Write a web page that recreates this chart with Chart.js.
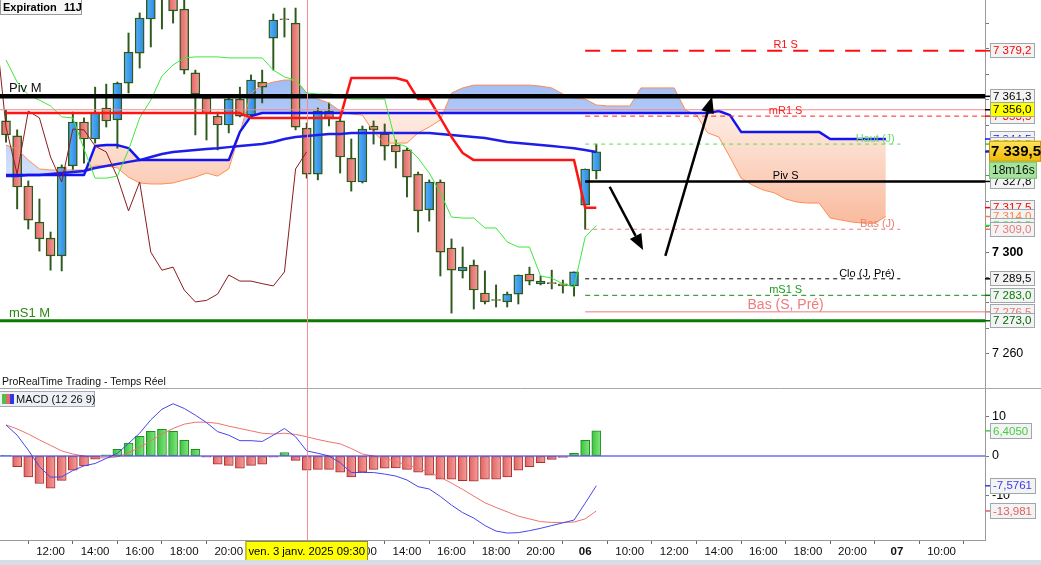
<!DOCTYPE html>
<html>
<head>
<meta charset="utf-8">
<title>CAC 40 30 min - Ichimoku / MACD</title>
<script src="https://cdn.jsdelivr.net/npm/chart.js@4.4.1/dist/chart.umd.min.js"></script>
<style>
  html, body { margin: 0; padding: 0; background: #fff; }
  body { width: 1041px; height: 565px; overflow: hidden; position: relative; }
  canvas { position: absolute; left: 0; }
  #priceChart { top: 0; }
  #macdChart { top: 389px; }
</style>
</head>
<body>
<canvas id="priceChart" width="1041" height="389"></canvas>
<canvas id="macdChart" width="1041" height="176"></canvas>
<script>
// 30 min bars, 2 janv. 10:00 -> 6 janv. 08:30 (bar index 0..53)
const opens = [7351.6, 7345.7, 7326.0, 7311.8, 7305.5, 7298.5, 7333.9, 7351.2, 7344.5, 7356.7,
	7352.0, 7366.5, 7378.3, 7391.7, 7401.5, 7404.7, 7395.6, 7370.5, 7360.6, 7353.5,
	7350.0, 7360.2, 7353.9, 7366.9, 7384.2, 7391.8, 7390.1, 7348.8, 7330.7, 7355.5,
	7351.6, 7337.0, 7327.6, 7349.6, 7346.5, 7342.1, 7340.2, 7330.7, 7316.6, 7327.6,
	7301.6, 7292.6, 7294.9, 7283.9, 7281.3, 7280.4, 7283.5, 7291.4, 7287.5, 7288.0,
	7287.5, 7286.7, 7318.5, 7331.9];
const highs = [7355.9, 7348.1, 7328.0, 7320.9, 7307.9, 7334.3, 7355.1, 7352.8, 7364.9, 7366.1,
	7366.9, 7386.2, 7394.1, 7405.1, 7410.2, 7407.8, 7401.1, 7371.6, 7361.8, 7355.1,
	7361.0, 7364.9, 7369.7, 7371.6, 7393.7, 7396.0, 7396.0, 7350.8, 7356.7, 7358.7,
	7352.8, 7344.5, 7349.6, 7351.6, 7350.4, 7344.1, 7340.9, 7331.5, 7328.4, 7328.4,
	7305.2, 7302.0, 7296.9, 7292.6, 7287.1, 7284.3, 7291.0, 7294.1, 7290.6, 7292.9,
	7289.0, 7292.2, 7332.7, 7342.5];
const lows = [7343.3, 7317.0, 7309.1, 7300.4, 7292.9, 7292.6, 7332.3, 7335.0, 7342.9, 7349.2,
	7340.9, 7362.6, 7372.4, 7380.7, 7387.8, 7390.1, 7370.1, 7346.1, 7344.1, 7340.2,
	7346.9, 7353.2, 7353.5, 7358.7, 7371.6, 7384.6, 7348.1, 7329.1, 7328.4, 7349.6,
	7331.1, 7324.0, 7327.2, 7342.5, 7336.2, 7333.1, 7321.7, 7307.9, 7312.2, 7290.6,
	7276.0, 7289.8, 7277.6, 7279.6, 7278.4, 7278.4, 7279.6, 7287.1, 7287.1, 7285.5,
	7283.9, 7282.7, 7309.0, 7328.8];
const closes = [7346.1, 7325.6, 7312.6, 7305.2, 7298.5, 7333.5, 7351.2, 7344.5, 7355.1, 7351.6,
	7366.5, 7378.7, 7392.1, 7401.5, 7406.3, 7394.9, 7371.6, 7362.2, 7354.7, 7350.0,
	7360.2, 7353.5, 7367.7, 7364.9, 7391.3, 7391.4, 7349.2, 7330.7, 7355.5, 7352.8,
	7337.4, 7327.6, 7348.4, 7348.1, 7341.7, 7339.4, 7329.5, 7316.2, 7327.6, 7300.0,
	7292.9, 7294.1, 7285.1, 7280.4, 7281.0, 7283.5, 7291.0, 7288.6, 7288.6, 7287.6,
	7286.7, 7292.2, 7332.7, 7339.5];

// Ichimoku
const tenkan = [7375.6, 7366.9, 7361.8, 7359.8, 7357.5, 7353.2, 7352.8, 7340.6, 7329.1, 7329.1,
	7329.9, 7340.2, 7352.8, 7359.8, 7369.3, 7373.6, 7376.4, 7376.8, 7376.8, 7376.8,
	7376.4, 7376.4, 7376.4, 7376.4, 7371.6, 7368.9, 7367.7, 7362.6, 7362.2, 7362.2,
	7361.8, 7360.2, 7360.2, 7360.2, 7360.2, 7342.9, 7341.4, 7337.0, 7331.1, 7323.3,
	7313.8, 7313.4, 7313.4, 7309.5, 7309.5, 7304.0, 7302.0, 7302.0, 7290.6, 7289.8,
	7287.5, 7286.3, 7305.9, 7310.5];
const kijun = [7354.7, 7354.7, 7354.7, 7354.7, 7354.7, 7354.7, 7354.7, 7354.7, 7354.7, 7354.7,
	7354.7, 7354.7, 7354.7, 7354.7, 7354.7, 7354.7, 7354.7, 7354.7, 7354.7, 7354.7,
	7354.7, 7354.7, 7352.8, 7352.8, 7352.8, 7352.8, 7352.8, 7352.8, 7352.8, 7352.8,
	7352.8, 7368.5, 7368.5, 7368.5, 7368.5, 7368.5, 7367.3, 7360.2, 7360.2, 7352.8,
	7345.3, 7339.0, 7336.2, 7336.2, 7336.2, 7336.2, 7336.2, 7336.2, 7336.2, 7336.2,
	7336.2, 7336.2, 7317.5, 7317.5];
// senkou spans run 26 bars past the last candle (index 0..79)
const spanA = [7342.1, 7340.6, 7336.2, 7332.7, 7332.3, 7332.3, 7332.3, 7332.3, 7333.9, 7333.9,
	7333.1, 7329.5, 7327.2, 7326.8, 7326.8, 7327.2, 7328.4, 7329.5, 7331.1, 7329.9,
	7332.7, 7346.9, 7362.6, 7365.7, 7366.9, 7367.7, 7367.7, 7362.6, 7360.2, 7358.7,
	7355.5, 7354.3, 7353.9, 7347.3, 7342.9, 7342.9, 7342.9, 7346.9, 7349.2, 7352.0,
	7362.6, 7364.6, 7365.7, 7365.7, 7365.7, 7365.7, 7365.7, 7365.7, 7365.3, 7364.6,
	7362.2, 7360.6, 7360.2, 7357.9, 7357.5, 7357.5, 7357.5, 7364.6, 7364.6, 7364.6,
	7364.6, 7355.9, 7353.9, 7346.9, 7345.3, 7337.4, 7329.1, 7326.4, 7324.4, 7323.3,
	7320.9, 7319.7, 7319.3, 7319.3, 7313.4, 7312.6, 7311.8, 7311.4, 7311.4, 7314.0];
const spanB = [7330.3, 7330.3, 7330.3, 7330.3, 7330.3, 7330.3, 7330.3, 7330.3, 7341.7, 7342.1,
	7342.1, 7340.9, 7336.2, 7336.2, 7336.2, 7336.2, 7336.2, 7336.2, 7336.2, 7336.2,
	7336.2, 7347.3, 7353.5, 7354.7, 7354.7, 7354.7, 7354.7, 7354.7, 7354.7, 7354.7,
	7354.7, 7354.7, 7354.7, 7354.7, 7354.7, 7354.7, 7354.7, 7354.7, 7354.7, 7354.7,
	7354.7, 7354.7, 7354.7, 7354.7, 7354.7, 7354.7, 7354.7, 7354.7, 7354.7, 7354.7,
	7354.7, 7354.7, 7354.7, 7354.7, 7354.7, 7354.7, 7354.7, 7354.7, 7354.7, 7354.7,
	7354.7, 7354.7, 7354.7, 7354.7, 7355.5, 7353.9, 7347.3, 7347.3, 7347.3, 7347.3,
	7347.3, 7347.3, 7347.3, 7347.3, 7344.5, 7344.5, 7344.5, 7344.5, 7344.5, 7344.5];
const movingAvg = [7329.9, 7329.9, 7330.3, 7330.3, 7330.7, 7331.1, 7331.5, 7331.9, 7333.1, 7333.9,
	7334.7, 7335.5, 7336.2, 7337.4, 7338.6, 7339.4, 7339.8, 7340.2, 7340.6, 7340.9,
	7341.3, 7341.7, 7342.1, 7342.5, 7343.3, 7344.5, 7345.3, 7345.7, 7346.1, 7346.5,
	7346.5, 7346.9, 7346.9, 7346.9, 7346.9, 7346.9, 7346.9, 7346.9, 7346.9, 7346.5,
	7346.1, 7345.7, 7345.3, 7344.9, 7344.1, 7343.3, 7342.9, 7342.5, 7342.1, 7341.7,
	7341.3, 7340.9, 7340.2, 7339.4];
const CHIKOU_SHIFT = 26;

// MACD (12 26 9)
const macdLine = [7.9, 5.3, 1.5, -2.7, -5.4, -5.3, -3.7, -2.5, -1.9, -0.6,
	0.7, 3.2, 5.8, 9.2, 11.9, 13.3, 12.1, 10.4, 8.5, 6.2,
	5.3, 3.9, 3.9, 3.7, 5.3, 7.0, 4.9, 1.3, 0.7, 0.0,
	-1.7, -4.2, -4.2, -4.2, -4.6, -5.1, -6.1, -7.8, -8.4, -10.3,
	-12.5, -14.4, -15.8, -17.7, -19.1, -19.6, -19.5, -19.0, -18.4, -17.7,
	-17.0, -16.3, -12.0, -7.5761];
const signalLine = [7.9, 6.9, 5.6, 4.1, 2.7, 1.3, 0.5, 0.0, -0.4, -0.5,
	-0.2, 0.8, 2.2, 3.9, 5.6, 7.0, 8.1, 8.6, 8.6, 8.3,
	7.6, 7.0, 6.4, 5.8, 5.6, 5.8, 5.5, 4.9, 4.2, 3.6,
	3.1, 1.9, 0.5, 0.0, -0.6, -1.4, -2.3, -3.1, -4.2, -5.4,
	-6.9, -8.5, -10.2, -11.9, -13.1, -14.2, -15.3, -16.0, -16.7, -16.9,
	-16.9, -16.8, -16.0, -13.981];
const histogram = [0.2, -2.7, -5.3, -7.0, -8.2, -6.2, -3.6, -2.5, -0.8, 0.3,
	1.7, 3.3, 5.0, 6.3, 6.8, 6.3, 4.0, 1.7, -0.3, -2.1,
	-2.4, -3.1, -2.4, -2.1, -0.3, 0.9, -1.1, -3.6, -3.4, -3.4,
	-4.1, -5.3, -4.1, -3.4, -3.1, -3.0, -3.4, -4.1, -4.9, -5.9,
	-5.9, -6.3, -6.4, -5.9, -5.9, -5.3, -3.6, -2.7, -1.7, -0.85,
	-0.35, 0.7, 4.0, 6.405];

// pivots and reference levels
const levelNames = ['R1 S', 'Piv M', '', 'mR1 S', 'Haut (J)', 'Piv S', 'Bas (J)', 'Clo (J, Pré)', 'mS1 S', 'Bas (S, Pré)', 'mS1 M'];
const levelValues = [7379.2, 7361.3, 7356.0, 7353.5, 7342.5, 7327.8, 7309.0, 7289.5, 7283.0, 7276.5, 7273.0];

// axis labels
const xTickIdx = [0, 4, 8, 12, 16, 20, 24, 28, 32, 36, 40, 44, 48, 52, 56, 60, 64, 68, 72, 76, 80, 84];
const xTickLabels = ['', '12:00', '14:00', '16:00', '18:00', '20:00', '03', '10:00', '12:00', '14:00', '16:00', '18:00', '20:00',
	'06', '10:00', '12:00', '14:00', '16:00', '18:00', '20:00', '07', '10:00'];
const yTickLabels = [7300, 7260];
const crossIdx = 27;
const crossLabel = 'ven. 3 janv. 2025 09:30';
const countdown = '18m16s';

// ---- look ----
const FONT = '"Liberation Sans", Arial, sans-serif';
const X_MIN = -0.54, X_MAX = 87.9;
const WEEK_FROM = 52, DAY_TO = 80.3, LABEL_MID = 70, LABEL_RIGHT = 79.8;
const EDGE = '#2d5a1b';
const BULL_SHADE = ['#55b2fb', '#2d88dc'];
const BEAR_SHADE = ['#df6563', '#f49e9a'];

const levelStyle = {
	'R1 S': { color: '#ff1010', width: 2, dash: [15, 11], from: WEEK_FROM, to: X_MAX, text: '#ff1010', size: 11, at: 'mid' },
	'Piv M': { color: '#000000', width: 4.5, dash: [], from: X_MIN, to: X_MAX, text: '#111111', size: 13, at: 'left' },
	'': { color: '#f08a8a', width: 1, dash: [], from: X_MIN, to: X_MAX },
	'mR1 S': { color: '#ff2020', width: 1, dash: [5, 4], from: WEEK_FROM, to: X_MAX, text: '#ff2020', size: 11, at: 'mid' },
	'Haut (J)': { color: '#55dd55', width: 1, dash: [4, 4], from: WEEK_FROM, to: DAY_TO, text: '#66dd66', size: 11, at: 'right' },
	'Piv S': { color: '#000000', width: 2.5, dash: [], from: WEEK_FROM, to: X_MAX, text: '#000000', size: 11, at: 'mid' },
	'Bas (J)': { color: '#e88080', width: 1, dash: [4, 4], from: WEEK_FROM, to: DAY_TO, text: '#e88070', size: 11, at: 'right' },
	'Clo (J, Pré)': { color: '#000000', width: 1, dash: [4, 4], from: WEEK_FROM, to: DAY_TO, text: '#000000', size: 11, at: 'right' },
	'mS1 S': { color: '#1a8a1a', width: 1, dash: [5, 4], from: WEEK_FROM, to: X_MAX, text: '#1a9a1a', size: 11, at: 'mid' },
	'Bas (S, Pré)': { color: '#e87a7a', width: 1, dash: [], from: WEEK_FROM, to: X_MAX, text: '#ee7c7c', size: 14, at: 'mid' },
	'mS1 M': { color: '#0a7a00', width: 3, dash: [], from: X_MIN, to: X_MAX, text: '#2a8a10', size: 13, at: 'left' }
};

function fmt(v, dec) {
	const parts = Math.abs(v).toFixed(dec).split('.');
	const int = parts[0].replace(/\B(?=(\d{3})+(?!\d))/g, ' ');
	return (v < 0 ? '-' : '') + int + (parts[1] ? ',' + parts[1] : '');
}
const fmt5 = v => v.toPrecision(5).replace('.', ',');
const pts = arr => arr.map((v, i) => ({ x: i, y: v }));
const last = arr => arr[arr.length - 1];

function lineSet(data, color, width, order, extra) {
	return Object.assign({
		type: 'line', data, borderColor: color, borderWidth: width,
		pointRadius: 0, tension: 0, fill: false, order, borderJoinStyle: 'round'
	}, extra || {});
}

// horizontal shading of a bar body, like the platform's candles
function shade(c, colors) {
	const xs = c.chart.scales && c.chart.scales.x;
	if (!xs || !c.parsed) return colors[0];
	const px = xs.getPixelForValue(c.parsed.x);
	if (!isFinite(px)) return colors[0];
	const g = c.chart.ctx.createLinearGradient(px - 4.5, 0, px + 4.5, 0);
	g.addColorStop(0, colors[0]);
	g.addColorStop(1, colors[1]);
	return g;
}

function tag(ctx, left, yc, text, color, bg, font, h) {
	h = h || 15;
	ctx.font = font;
	const w = Math.ceil(ctx.measureText(text).width) + 6;
	ctx.fillStyle = bg;
	ctx.fillRect(left, yc - h / 2, w, h);
	ctx.strokeStyle = '#9ea6ae';
	ctx.lineWidth = 1;
	ctx.strokeRect(left + 0.5, Math.round(yc - h / 2) + 0.5, w - 1, h - 1);
	ctx.fillStyle = color;
	ctx.textAlign = 'left';
	ctx.textBaseline = 'middle';
	ctx.fillText(text, left + 3, yc + 0.5);
}

function arrow(ctx, x1, y1, x2, y2) {
	const a = Math.atan2(y2 - y1, x2 - x1), L = 16, W = 6.5;
	const bx = x2 - L * Math.cos(a), by = y2 - L * Math.sin(a);
	ctx.beginPath();
	ctx.moveTo(x1, y1);
	ctx.lineTo(bx, by);
	ctx.stroke();
	ctx.beginPath();
	ctx.moveTo(x2, y2);
	ctx.lineTo(bx + W * Math.sin(a), by - W * Math.cos(a));
	ctx.lineTo(bx - W * Math.sin(a), by + W * Math.cos(a));
	ctx.closePath();
	ctx.fill();
}

const arrows = [
	{ from: [54.2, 7325.7], to: [57.2, 7300.8] },
	{ from: [59.2, 7298.5], to: [63.4, 7361.1] }
];

// ---- price panel ----
const priceOverlay = {
	id: 'priceOverlay',
	afterDatasetsDraw(chart) {
		const { ctx, chartArea: a, scales: { x, y } } = chart;
		ctx.save();
		const cx = Math.round(x.getPixelForValue(crossIdx)) + 0.5;
		ctx.strokeStyle = '#f28e8e';
		ctx.lineWidth = 1;
		ctx.beginPath(); ctx.moveTo(cx, a.top); ctx.lineTo(cx, a.bottom); ctx.stroke();

		ctx.strokeStyle = '#000'; ctx.fillStyle = '#000'; ctx.lineWidth = 2.5;
		arrows.forEach(ar => arrow(ctx,
			x.getPixelForValue(ar.from[0]), y.getPixelForValue(ar.from[1]),
			x.getPixelForValue(ar.to[0]), y.getPixelForValue(ar.to[1])));

		levelNames.forEach((name, k) => {
			if (!name) return;
			const st = levelStyle[name];
			const py = y.getPixelForValue(levelValues[k]);
			ctx.font = st.size + 'px ' + FONT;
			ctx.fillStyle = st.text;
			ctx.textBaseline = 'bottom';
			let px;
			if (st.at === 'left') { ctx.textAlign = 'left'; px = a.left + 9; }
			else if (st.at === 'mid') { ctx.textAlign = 'center'; px = x.getPixelForValue(LABEL_MID); }
			else { ctx.textAlign = 'right'; px = x.getPixelForValue(LABEL_RIGHT); }
			ctx.fillText(name, px, py - st.width / 2 + 1);
		});
		ctx.restore();
	},
	afterDraw(chart) {
		const { ctx, chartArea: a, scales: { y } } = chart;
		ctx.save();
		// panel separator
		ctx.strokeStyle = '#a8a8a8'; ctx.lineWidth = 1;
		ctx.beginPath(); ctx.moveTo(0, a.bottom - 0.5); ctx.lineTo(chart.width, a.bottom - 0.5); ctx.stroke();
		ctx.fillStyle = '#111'; ctx.font = '10.5px ' + FONT;
		ctx.textAlign = 'left'; ctx.textBaseline = 'middle';
		ctx.fillText('ProRealTime Trading - Temps Réel', 2, a.bottom - 7);

		// expiration box
		ctx.fillStyle = '#f7f7f7'; ctx.fillRect(0, 0, 82, 15);
		ctx.strokeStyle = '#9a9a9a'; ctx.strokeRect(0.5, -0.5, 81, 15);
		ctx.fillStyle = '#000'; ctx.font = 'bold 11px ' + FONT;
		ctx.fillText('Expiration', 3, 8);
		ctx.fillText('11J', 64, 8);

		// right-hand price tags
		const tags = [
			[levelValues[0], '#ff0000'], [levelValues[1], '#000000'],
			[levelValues[3], '#ff0000'], [levelValues[2], '#000000', '#ffff00'],
			[last(spanB), '#1010ff'], [levelValues[4], '#33cc33'],
			[levelValues[5], '#000000'], [last(kijun), '#ff0000'],
			[last(spanA), '#ff8040'], [last(tenkan), '#33dd33'],
			[levelValues[6], '#e87878'], [levelValues[7], '#000000'],
			[levelValues[8], '#008000'], [levelValues[9], '#e87878'],
			[levelValues[10], '#006400']
		];
		tags.forEach(t => {
			const yc = y.getPixelForValue(t[0]);
			ctx.strokeStyle = t[1]; ctx.lineWidth = 1.5;
			ctx.beginPath(); ctx.moveTo(a.right, yc); ctx.lineTo(a.right + 5, yc); ctx.stroke();
			tag(ctx, a.right + 5, yc, fmt(t[0], 1), t[1], t[2] || '#f3f3f3', '11.5px ' + FONT);
		});

		// current price + countdown
		const pc = y.getPixelForValue(last(closes));
		ctx.strokeStyle = '#1e1ee8'; ctx.lineWidth = 2;
		ctx.beginPath(); ctx.moveTo(a.right, pc); ctx.lineTo(a.right + 5, pc); ctx.stroke();
		const g = ctx.createLinearGradient(0, pc - 11, 0, pc + 11);
		g.addColorStop(0, '#ffe45c'); g.addColorStop(1, '#f0b400');
		ctx.fillStyle = g; ctx.fillRect(a.right + 4, pc - 11, chart.width - a.right - 4, 21);
		ctx.strokeStyle = '#c89400'; ctx.lineWidth = 1;
		ctx.strokeRect(a.right + 4.5, pc - 10.5, chart.width - a.right - 5, 20);
		ctx.fillStyle = '#000'; ctx.font = 'bold 15px ' + FONT;
		ctx.textAlign = 'left'; ctx.textBaseline = 'middle';
		ctx.fillText(fmt(last(closes), 1), a.right + 6, pc + 0.5);
		ctx.fillStyle = '#a3e39c'; ctx.fillRect(a.right + 4, pc + 10, 48, 17);
		ctx.strokeStyle = '#79c073'; ctx.strokeRect(a.right + 4.5, pc + 10.5, 47, 16);
		ctx.fillStyle = '#111'; ctx.font = '12px ' + FONT;
		ctx.fillText(countdown, a.right + 7, pc + 19);
		ctx.restore();
	}
};

const levelSets = levelNames.map((name, k) => {
	const st = levelStyle[name];
	return lineSet([{ x: st.from, y: levelValues[k] }, { x: st.to, y: levelValues[k] }],
		st.color, st.width, 1, { borderDash: st.dash, borderCapStyle: 'butt' });
});

const chikou = closes.map((c, i) => ({ x: i - CHIKOU_SHIFT, y: c })).filter(p => p.x >= -1);

const priceChart = new Chart(document.getElementById('priceChart'), {
	type: 'bar',
	data: {
		datasets: [
			lineSet(pts(spanA), '#ff8c55', 1, 6, { fill: { target: 1, above: '#aac5f6', below: '#fcd6c3' } }),
			lineSet(pts(spanB), '#1414f0', 2.5, 4),
			lineSet(pts(movingAvg), '#1e1ee8', 2.5, 4),
			lineSet(pts(kijun), '#ff1414', 2.5, 3),
			lineSet(pts(tenkan), '#3de83d', 1, 3),
			lineSet(chikou, '#8b1c1c', 1, 3),
			...levelSets,
			{
				type: 'bar', order: 11, grouped: false, barThickness: 1.3,
				data: lows.map((l, i) => ({ x: i, y: [l, highs[i]] })),
				backgroundColor: EDGE, borderWidth: 0
			},
			{
				type: 'bar', order: 10, grouped: false, barThickness: 9,
				data: opens.map((o, i) => ({ x: i, y: [o, closes[i]] })),
				backgroundColor: c => shade(c, closes[c.dataIndex] > opens[c.dataIndex] ? BULL_SHADE : BEAR_SHADE),
				borderColor: EDGE, borderWidth: 1.4, borderSkipped: false
			}
		]
	},
	options: {
		responsive: false,
		animation: false,
		events: [],
		layout: { padding: 0, autoPadding: false },
		plugins: { legend: { display: false }, tooltip: { enabled: false }, filler: { drawTime: 'beforeDatasetsDraw' } },
		scales: {
			x: { type: 'linear', min: X_MIN, max: X_MAX, offset: false, display: false },
			y: {
				position: 'right', min: 7246.15, max: 7399.18,
				grid: { drawOnChartArea: false, tickLength: 4, color: '#777' },
				border: { display: true, color: '#9a9a9a' },
				afterBuildTicks: s => { s.ticks = s.ticks.filter(t => Math.abs(t.value / 10 - Math.round(t.value / 10)) < 1e-6); },
				ticks: {
					stepSize: 10, padding: 3, color: '#000',
					callback: v => yTickLabels.some(t => Math.abs(t - v) < 1e-6) ? fmt(v, 0) : '',
					font: c => ({ family: FONT, size: 12.5, weight: c.tick && Math.abs(c.tick.value - 7300) < 1e-6 ? 'bold' : 'normal' })
				},
				afterFit: s => { s.width = 56; s.paddingTop = 0; s.paddingBottom = 0; }
			}
		}
	},
	plugins: [priceOverlay]
});

// cloud shading gets lighter towards the top; candles re-shaded now the scales are laid out
(function () {
	const c = priceChart.ctx, ys = priceChart.scales.y;
	const blue = c.createLinearGradient(0, ys.getPixelForValue(7366), 0, ys.getPixelForValue(7330));
	blue.addColorStop(0, '#a1bef5'); blue.addColorStop(1, '#d3e1fb');
	const peach = c.createLinearGradient(0, ys.getPixelForValue(7352), 0, ys.getPixelForValue(7312));
	peach.addColorStop(0, '#fee9df'); peach.addColorStop(1, '#f9bc9f');
	priceChart.data.datasets[0].fill = { target: 1, above: blue, below: peach };
	priceChart.update('none');
})();

// ---- MACD panel ----
const macdOverlay = {
	id: 'macdOverlay',
	afterDatasetsDraw(chart) {
		const { ctx, chartArea: a, scales: { x } } = chart;
		ctx.save();
		const cx = Math.round(x.getPixelForValue(crossIdx)) + 0.5;
		ctx.strokeStyle = '#f28e8e'; ctx.lineWidth = 1;
		ctx.beginPath(); ctx.moveTo(cx, a.top); ctx.lineTo(cx, a.bottom); ctx.stroke();
		ctx.restore();
	},
	afterDraw(chart) {
		const { ctx, chartArea: a, scales: { x, y } } = chart;
		ctx.save();
		// legend box
		ctx.fillStyle = '#edf0f4'; ctx.fillRect(0, 2, 95, 16);
		ctx.strokeStyle = '#a3acb6'; ctx.lineWidth = 1; ctx.strokeRect(-0.5, 2.5, 95, 15);
		[['#4cc24c', 2], ['#e06a68', 6], ['#3434e6', 10]].forEach(b => { ctx.fillStyle = b[0]; ctx.fillRect(b[1], 5, 4, 10); });
		ctx.fillStyle = '#111'; ctx.font = '11px ' + FONT;
		ctx.textAlign = 'left'; ctx.textBaseline = 'middle';
		ctx.fillText('MACD (12 26 9)', 16, 10.5);

		// value tags
		[[last(histogram), '#44cc44'], [last(macdLine), '#3a3af0'], [last(signalLine), '#e06060']].forEach(t => {
			const yc = y.getPixelForValue(t[0]);
			ctx.strokeStyle = t[1]; ctx.lineWidth = 1.5;
			ctx.beginPath(); ctx.moveTo(a.right, yc); ctx.lineTo(a.right + 5, yc); ctx.stroke();
			tag(ctx, a.right + 5, yc, fmt5(t[0]), t[1], '#f3f3f3', '11.5px ' + FONT, 16);
		});

		// date of the cursor
		const cx = x.getPixelForValue(crossIdx);
		ctx.font = '11.3px ' + FONT;
		const w = ctx.measureText(crossLabel).width + 6;
		ctx.fillStyle = '#ffff00'; ctx.fillRect(cx - w / 2, a.bottom + 1, w, 20);
		ctx.strokeStyle = '#8c8c40'; ctx.strokeRect(cx - w / 2 + 0.5, a.bottom + 1.5, w - 1, 19);
		ctx.fillStyle = '#000'; ctx.textAlign = 'center';
		ctx.fillText(crossLabel, cx, a.bottom + 11.5);

		// scrollbar strip
		ctx.fillStyle = '#d5dde6'; ctx.fillRect(0, chart.height - 5, chart.width, 5);
		ctx.restore();
	}
};

const macdChart = new Chart(document.getElementById('macdChart'), {
	type: 'bar',
	data: {
		datasets: [
			lineSet([{ x: X_MIN, y: 0 }, { x: X_MAX, y: 0 }], '#2626e0', 1.2, 1),
			lineSet(pts(macdLine), '#4646ee', 1, 2),
			lineSet(pts(signalLine), '#ec7370', 1, 2),
			{
				type: 'bar', order: 5, barThickness: 9,
				data: pts(histogram),
				backgroundColor: c => shade(c, histogram[c.dataIndex] >= 0 ? ['#3fc03f', '#7ee87e'] : ['#df6563', '#f49e9a']),
				borderColor: histogram.map(v => v >= 0 ? '#1f8f1f' : '#a83030'),
				borderWidth: 1, borderSkipped: false
			}
		]
	},
	options: {
		responsive: false,
		animation: false,
		events: [],
		layout: { padding: 0, autoPadding: false },
		plugins: { legend: { display: false }, tooltip: { enabled: false } },
		scales: {
			x: {
				type: 'linear', min: X_MIN, max: X_MAX, offset: false,
				afterBuildTicks: s => { s.ticks = xTickIdx.map(v => ({ value: v })); },
				grid: { drawOnChartArea: false, tickLength: 4, color: '#666' },
				border: { display: true, color: '#9a9a9a' },
				ticks: {
					autoSkip: false, maxRotation: 0, padding: 1, color: '#111',
					callback: (v, i) => xTickLabels[i],
					font: c => ({ family: FONT, size: 11.5, weight: (xTickLabels[c.index] || '').length === 2 ? 'bold' : 'normal' })
				},
				afterFit: s => { s.height = 25; s.paddingLeft = 0; s.paddingRight = 0; }
			},
			y: {
				position: 'right', min: -21.37, max: 17.05,
				grid: { drawOnChartArea: false, tickLength: 4, color: '#777' },
				border: { display: true, color: '#9a9a9a' },
				afterBuildTicks: s => { s.ticks = s.ticks.filter(t => Math.abs(t.value / 10 - Math.round(t.value / 10)) < 1e-6); },
				ticks: {
					stepSize: 10, padding: 3, color: '#000',
					callback: v => fmt(v, 0),
					font: { family: FONT, size: 12.5 }
				},
				afterFit: s => { s.width = 56; s.paddingTop = 0; s.paddingBottom = 0; }
			}
		}
	},
	plugins: [macdOverlay]
});
macdChart.update('none');
</script>
</body>
</html>
